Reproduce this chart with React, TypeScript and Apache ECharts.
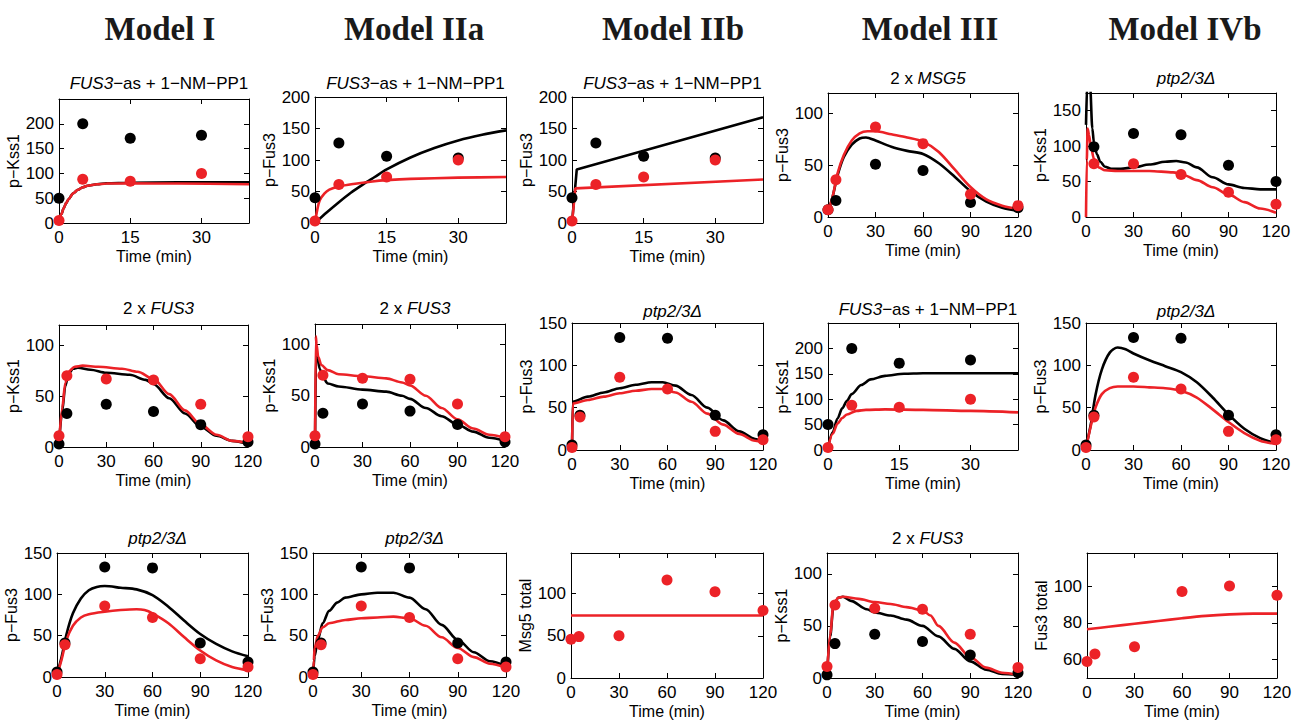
import React, { useEffect, useRef } from 'react';
import * as echarts from 'echarts';

type Pair = [number, number];

// ---------- tick labels / axes ----------
const xTicksShort = [0, 15, 30];
const xTicksLong = [0, 30, 60, 90, 120];
const yTicks200 = [0, 50, 100, 150, 200];
const yTicks150 = [0, 50, 100, 150];
const yTicks100 = [0, 50, 100];
const yTicksFus3Total = [60, 80, 100];

// ---------- experimental time points ----------
const tInhib = [0, 5, 15, 30];
const tCourse = [0, 5, 30, 60, 90, 120];
const tPtpKss1 = [5, 30, 60, 90, 120];

// ---------- experimental data (black = wild type, red = perturbation) ----------
const asKss1Black = [50, 200, 171, 177];
const asKss1Red = [5, 88, 84, 100];
const asFus3Black = [40, 127, 106, 103];
const asFus3Red = [3, 61, 73, 100];
const msg5Fus3Black = [7, 16, 51, 45, 14, 9];
const msg5Fus3Red = [7, 36, 87, 71, 22, 11];
const ptpKss1Black = [99, 118, 116, 73, 50];
const ptpKss1Red = [75, 75, 60, 35, 18];
const fus3x2Kss1Black = [3, 33, 42, 35, 22, 5];
const fus3x2Kss1Red = [11, 70, 67, 66, 42, 10];
const ptpFus3Black = [6, 41, 133, 132, 41, 18];
const ptpFus3Red = [3, 39, 86, 72, 22, 12];
const msg5TotalRed = [46, 49, 50, 116, 102, 80];
const fus3TotalRed = [59, 63, 67, 97, 100, 95];

// ---------- model simulations ----------
const m1AsKss1Black: Pair[] = [[0, 5], [0.5, 18], [1, 30], [1.5, 40], [2, 48], [3, 60], [4, 67], [5, 72], [6, 75], [8, 78], [10, 80], [15, 81], [25, 82], [40, 82]];
const m1AsKss1Red: Pair[] = [[0, 5], [0.5, 18], [1, 30], [1.5, 40], [2, 48], [3, 60], [4, 67], [5, 72], [6, 75], [8, 78], [10, 79.5], [15, 80], [25, 79.5], [40, 78]];
const m2aAsFus3Black: Pair[] = [[0, 0], [2.5, 17], [5, 33], [7.5, 48], [10, 61], [12.5, 73], [15, 85], [20, 104], [25, 119], [30, 131], [35, 140], [40, 147]];
const m2aAsFus3Red: Pair[] = [[0, 0], [0.5, 22], [1, 36], [2, 47], [3, 53], [5, 58], [8, 62], [12, 66], [15, 68], [20, 70], [30, 72], [40, 73]];
const m2bAsFus3Black: Pair[] = [[0, 0], [1, 85], [40, 168]];
const m2bAsFus3Red: Pair[] = [[0, 0], [0.7, 55], [40, 69]];
const m3Msg5Black: Pair[] = [[0, 5], [3, 20], [6, 40], [10, 58], [15, 70], [20, 76], [24, 77], [30, 74], [40, 68], [50, 64], [60, 61], [70, 52], [80, 39], [90, 25], [100, 15], [110, 9], [120, 6]];
const m3Msg5Red: Pair[] = [[0, 5], [3, 20], [6, 42], [10, 60], [15, 74], [20, 81], [25, 83], [30, 83], [40, 80], [50, 77], [60, 73], [70, 63], [80, 46], [90, 29], [100, 17], [110, 11], [120, 8]];
const m4bPtpKss1Black: Pair[] = [[0, 130], [1, 200], [2.5, 190], [4, 125], [5, 105], [7, 88], [9, 78], [12, 71], [16, 68], [22, 68], [30, 70], [40, 74], [50, 78], [57, 79], [63, 77], [70, 70], [80, 56], [90, 46], [100, 41], [110, 39], [120, 39]];
const m4bPtpKss1Red: Pair[] = [[0, 0], [0.5, 80], [1, 125], [2, 115], [3, 100], [5, 82], [8, 70], [12, 66], [20, 65], [40, 65], [55, 63], [62, 59], [70, 52], [80, 42], [90, 32], [100, 21], [110, 12], [120, 6]];
const m1Fus3x2Black: Pair[] = [[0, 3], [2, 35], [4, 60], [6, 72], [9, 77], [12, 78], [20, 76], [30, 73], [45, 71], [55, 66], [60, 62], [70, 48], [80, 33], [90, 20], [100, 11], [110, 6], [120, 3]];
const m1Fus3x2Red: Pair[] = [[0, 3], [2, 38], [4, 63], [6, 74], [10, 79], [15, 80], [25, 79], [40, 77], [50, 74], [60, 67], [70, 52], [80, 36], [90, 22], [100, 12], [110, 6], [120, 4]];
const m2aFus3x2Black: Pair[] = [[0, 0], [0.7, 95], [1.5, 88], [3, 76], [5, 68], [8, 62], [15, 59], [30, 56], [45, 54], [55, 50], [60, 47], [70, 38], [80, 30], [90, 22], [100, 15], [110, 9], [120, 6]];
const m2aFus3x2Red: Pair[] = [[0, 0], [0.5, 108], [1, 100], [2, 88], [4, 80], [8, 75], [15, 71], [30, 69], [45, 67], [55, 63], [60, 60], [70, 50], [80, 38], [90, 27], [100, 18], [110, 12], [120, 9]];
const m2bPtpFus3Black: Pair[] = [[0, 0], [0.5, 57], [10, 63], [20, 68], [30, 73], [40, 77], [50, 80], [57, 80], [65, 76], [75, 65], [85, 50], [95, 35], [105, 22], [115, 13], [120, 10]];
const m2bPtpFus3Red: Pair[] = [[0, 0], [0.5, 55], [10, 59], [20, 63], [30, 67], [40, 70], [50, 72], [57, 72], [65, 68], [75, 57], [85, 43], [95, 30], [105, 19], [115, 11], [120, 9]];
const m3AsKss1Black: Pair[] = [[0, 5], [1, 35], [2, 62], [3, 82], [4, 97], [5, 110], [7, 128], [9, 139], [12, 146], [16, 150], [20, 151], [40, 151]];
const m3AsKss1Red: Pair[] = [[0, 5], [1, 32], [2, 52], [3, 63], [4, 70], [6, 77], [8, 79], [12, 80], [20, 79], [30, 77], [40, 74]];
const m4bPtpFus3Black: Pair[] = [[0, 3], [3, 30], [6, 65], [10, 95], [15, 115], [20, 121], [25, 119], [30, 114], [40, 106], [50, 99], [60, 92], [70, 80], [80, 62], [90, 42], [100, 25], [110, 14], [120, 8]];
const m4bPtpFus3Red: Pair[] = [[0, 2], [3, 28], [6, 50], [10, 66], [15, 73], [20, 75], [30, 75], [40, 74], [50, 73], [60, 70], [70, 62], [80, 48], [90, 33], [100, 20], [110, 11], [120, 7]];
const m1PtpFus3Black: Pair[] = [[0, 3], [3, 25], [6, 52], [10, 77], [15, 95], [20, 105], [25, 109], [30, 110], [40, 108], [50, 106], [60, 99], [70, 85], [80, 68], [90, 52], [100, 40], [110, 31], [120, 25]];
const m1PtpFus3Red: Pair[] = [[0, 2], [3, 22], [6, 45], [10, 62], [15, 72], [20, 76], [30, 79], [40, 81], [50, 82], [55, 81], [60, 77], [70, 65], [80, 48], [90, 32], [100, 20], [110, 12], [120, 8]];
const m2aPtpFus3Black: Pair[] = [[0, 0], [1, 25], [3, 45], [6, 65], [10, 80], [15, 90], [20, 96], [30, 100], [40, 102], [50, 102], [60, 96], [70, 82], [80, 63], [90, 45], [100, 30], [110, 19], [120, 13]];
const m2aPtpFus3Red: Pair[] = [[0, 0], [0.5, 20], [1, 35], [3, 50], [6, 60], [10, 65], [20, 69], [30, 71], [40, 72], [50, 73], [60, 71], [70, 62], [80, 48], [90, 35], [100, 24], [110, 16], [120, 11]];
const m2bMsg5TotalRed: Pair[] = [[0, 74], [120, 74]];
const m3Fus3x2Black: Pair[] = [[0, 3], [2, 40], [4, 68], [7, 77], [10, 78], [15, 74], [25, 66], [30, 63], [40, 60], [50, 56], [60, 50], [70, 40], [80, 28], [90, 16], [100, 8], [110, 4], [120, 3]];
const m3Fus3x2Red: Pair[] = [[0, 3], [2, 42], [4, 70], [7, 77], [10, 78], [20, 76], [30, 73], [40, 71], [50, 68], [60, 65], [65, 60], [70, 50], [80, 34], [90, 20], [100, 10], [110, 5], [120, 3]];
const m4bFus3TotalRed: Pair[] = [[0, 76.5], [15, 78], [30, 79.5], [45, 81], [60, 82.5], [75, 83.8], [90, 84.6], [105, 85], [120, 85]];

// ---------- text ----------
const modelNames = ['Model I', 'Model IIa', 'Model IIb', 'Model III', 'Model IVb'];
const tAs = '{i|FUS3}{n|−as + 1−NM−PP1}';
const t2Msg5 = '{n|2 x }{i|MSG5}';
const tPtp = '{i|ptp2/3Δ}';
const t2Fus3 = '{n|2 x }{i|FUS3}';

const zip = (t: number[], v: number[]): Pair[] => t.map((x, i) => [x, v[i]]);

interface Panel {
  box: [number, number, number, number];
  title?: string;
  titleY: number;
  xMax: number; xTicks: number[];
  yMin: number; yMax: number; yTicks: number[];
  yName: string;
  blackLine?: Pair[]; redLine?: Pair[];
  blackDots?: Pair[]; redDots?: Pair[];
  smooth?: boolean;
  mono?: boolean;
}

const panels: Panel[] = [
  { box: [59, 99, 190, 124], title: tAs, titleY: 80, xMax: 40, xTicks: xTicksShort, yMin: 0, yMax: 250, yTicks: yTicks200, yName: 'p−Kss1',
    blackLine: m1AsKss1Black, redLine: m1AsKss1Red, blackDots: zip(tInhib, asKss1Black), redDots: zip(tInhib, asKss1Red), mono: true },
  { box: [315, 97, 191, 126], title: tAs, titleY: 80, xMax: 40, xTicks: xTicksShort, yMin: 0, yMax: 200, yTicks: yTicks200, yName: 'p−Fus3',
    blackLine: m2aAsFus3Black, redLine: m2aAsFus3Red, blackDots: zip(tInhib, asFus3Black), redDots: zip(tInhib, asFus3Red) },
  { box: [572, 97, 191, 126], title: tAs, titleY: 80, xMax: 40, xTicks: xTicksShort, yMin: 0, yMax: 200, yTicks: yTicks200, yName: 'p−Fus3',
    blackLine: m2bAsFus3Black, redLine: m2bAsFus3Red, blackDots: zip(tInhib, asFus3Black), redDots: zip(tInhib, asFus3Red), smooth: false },
  { box: [828, 93, 190, 124], title: t2Msg5, titleY: 75, xMax: 120, xTicks: xTicksLong, yMin: 0, yMax: 120, yTicks: yTicks100, yName: 'p−Fus3',
    blackLine: m3Msg5Black, redLine: m3Msg5Red, blackDots: zip(tCourse, msg5Fus3Black), redDots: zip(tCourse, msg5Fus3Red) },
  { box: [1086, 93, 190, 124], title: tPtp, titleY: 75, xMax: 120, xTicks: xTicksLong, yMin: 0, yMax: 175, yTicks: yTicks150, yName: 'p−Kss1',
    blackLine: m4bPtpKss1Black, redLine: m4bPtpKss1Red, blackDots: zip(tPtpKss1, ptpKss1Black), redDots: zip(tPtpKss1, ptpKss1Red), mono: true },

  { box: [59, 325, 189, 122], title: t2Fus3, titleY: 305, xMax: 120, xTicks: xTicksLong, yMin: 0, yMax: 120, yTicks: yTicks100, yName: 'p−Kss1',
    blackLine: m1Fus3x2Black, redLine: m1Fus3x2Red, blackDots: zip(tCourse, fus3x2Kss1Black), redDots: zip(tCourse, fus3x2Kss1Red), mono: true },
  { box: [315, 324, 190, 123], title: t2Fus3, titleY: 305, xMax: 120, xTicks: xTicksLong, yMin: 0, yMax: 120, yTicks: yTicks100, yName: 'p−Kss1',
    blackLine: m2aFus3x2Black, redLine: m2aFus3x2Red, blackDots: zip(tCourse, fus3x2Kss1Black), redDots: zip(tCourse, fus3x2Kss1Red), mono: true },
  { box: [572, 323, 191, 127], title: tPtp, titleY: 308, xMax: 120, xTicks: xTicksLong, yMin: 0, yMax: 150, yTicks: yTicks150, yName: 'p−Fus3',
    blackLine: m2bPtpFus3Black, redLine: m2bPtpFus3Red, blackDots: zip(tCourse, ptpFus3Black), redDots: zip(tCourse, ptpFus3Red), mono: true },
  { box: [828, 323, 190, 127], title: tAs, titleY: 306, xMax: 40, xTicks: xTicksShort, yMin: 0, yMax: 250, yTicks: yTicks200, yName: 'p−Kss1',
    blackLine: m3AsKss1Black, redLine: m3AsKss1Red, blackDots: zip(tInhib, asKss1Black), redDots: zip(tInhib, asKss1Red), mono: true },
  { box: [1086, 323, 190, 127], title: tPtp, titleY: 308, xMax: 120, xTicks: xTicksLong, yMin: 0, yMax: 150, yTicks: yTicks150, yName: 'p−Fus3',
    blackLine: m4bPtpFus3Black, redLine: m4bPtpFus3Red, blackDots: zip(tCourse, ptpFus3Black), redDots: zip(tCourse, ptpFus3Red) },

  { box: [57, 553, 191, 124], title: tPtp, titleY: 535, xMax: 120, xTicks: xTicksLong, yMin: 0, yMax: 150, yTicks: yTicks150, yName: 'p−Fus3',
    blackLine: m1PtpFus3Black, redLine: m1PtpFus3Red, blackDots: zip(tCourse, ptpFus3Black), redDots: zip(tCourse, ptpFus3Red) },
  { box: [313, 553, 193, 124], title: tPtp, titleY: 535, xMax: 120, xTicks: xTicksLong, yMin: 0, yMax: 150, yTicks: yTicks150, yName: 'p−Fus3',
    blackLine: m2aPtpFus3Black, redLine: m2aPtpFus3Red, blackDots: zip(tCourse, ptpFus3Black), redDots: zip(tCourse, ptpFus3Red), mono: true },
  { box: [571, 553, 192, 125], titleY: 535, xMax: 120, xTicks: xTicksLong, yMin: 0, yMax: 148, yTicks: yTicks100, yName: 'Msg5 total',
    redLine: m2bMsg5TotalRed, redDots: zip(tCourse, msg5TotalRed) },
  { box: [827, 553, 191, 125], title: t2Fus3, titleY: 535, xMax: 120, xTicks: xTicksLong, yMin: 0, yMax: 120, yTicks: yTicks100, yName: 'p−Kss1',
    blackLine: m3Fus3x2Black, redLine: m3Fus3x2Red, blackDots: zip(tCourse, fus3x2Kss1Black), redDots: zip(tCourse, fus3x2Kss1Red), mono: true },
  { box: [1087, 553, 190, 125], titleY: 535, xMax: 120, xTicks: xTicksLong, yMin: 50, yMax: 118, yTicks: yTicksFus3Total, yName: 'Fus3 total',
    redLine: m4bFus3TotalRed, redDots: zip(tCourse, fus3TotalRed) },
];

const headerX = [155, 409, 668, 925, 1180];

const SANS = "'Liberation Sans', Arial, Helvetica, sans-serif";
const SERIF = "'Liberation Serif', 'Times New Roman', serif";
const BLACK = '#000000';
const RED = '#ec2227';

function buildOption() {
  const grid: any[] = [];
  const xAxis: any[] = [];
  const yAxis: any[] = [];
  const series: any[] = [];
  const title: any[] = [];

  modelNames.forEach((m, i) => {
    title.push({
      text: m, left: headerX[i], top: 7, textAlign: 'center',
      textStyle: { fontFamily: SERIF, fontWeight: 'bold', fontSize: 33, color: '#1a1a1a' },
    });
  });

  panels.forEach((p, i) => {
    const [l, t, w, h] = p.box;
    grid.push({ left: l, top: t, width: w, height: h, containLabel: false });
    const lineCommon = { show: true, onZero: false, lineStyle: { color: BLACK, width: 1 } };
    const tickCommon = { inside: true, length: 5, lineStyle: { color: BLACK, width: 1 } };
    xAxis.push({
      type: 'value', gridIndex: i, min: 0, max: p.xMax, position: 'bottom',
      axisLine: lineCommon, axisTick: { ...tickCommon, customValues: p.xTicks },
      axisLabel: { customValues: p.xTicks, color: BLACK, fontSize: 17, fontFamily: SANS, margin: 6 },
      splitLine: { show: false },
      name: 'Time (min)', nameLocation: 'middle', nameGap: 25,
      nameTextStyle: { color: BLACK, fontSize: 16, fontFamily: SANS },
    });
    xAxis.push({
      type: 'value', gridIndex: i, min: 0, max: p.xMax, position: 'top',
      axisLine: lineCommon, axisTick: { ...tickCommon, customValues: p.xTicks },
      axisLabel: { show: false, customValues: p.xTicks }, splitLine: { show: false },
    });
    yAxis.push({
      type: 'value', gridIndex: i, min: p.yMin, max: p.yMax, position: 'left',
      axisLine: lineCommon, axisTick: { ...tickCommon, customValues: p.yTicks },
      axisLabel: { customValues: p.yTicks, color: BLACK, fontSize: 17, fontFamily: SANS, margin: 5 },
      splitLine: { show: false },
      name: p.yName, nameLocation: 'middle', nameGap: 35,
      nameTextStyle: { color: BLACK, fontSize: 16, fontFamily: SANS },
    });
    yAxis.push({
      type: 'value', gridIndex: i, min: p.yMin, max: p.yMax, position: 'right',
      axisLine: lineCommon, axisTick: { ...tickCommon, customValues: p.yTicks },
      axisLabel: { show: false, customValues: p.yTicks }, splitLine: { show: false },
    });
    const xi = i * 2;
    const yi = i * 2;
    const sm = p.smooth === false ? false : 0.3;
    const mono = p.mono ? 'x' : undefined;
    if (p.blackLine) {
      series.push({ type: 'line', xAxisIndex: xi, yAxisIndex: yi, data: p.blackLine, showSymbol: false, symbol: 'none',
        smooth: sm, smoothMonotone: mono, clip: true, lineStyle: { color: BLACK, width: 2.6 }, z: 2 });
    }
    if (p.redLine) {
      series.push({ type: 'line', xAxisIndex: xi, yAxisIndex: yi, data: p.redLine, showSymbol: false, symbol: 'none',
        smooth: sm, smoothMonotone: mono, clip: true, lineStyle: { color: RED, width: 2.6 }, z: 3 });
    }
    if (p.blackDots) {
      series.push({ type: 'scatter', xAxisIndex: xi, yAxisIndex: yi, data: p.blackDots, symbol: 'circle', symbolSize: 11,
        itemStyle: { color: BLACK, opacity: 1 }, z: 4 });
    }
    if (p.redDots) {
      series.push({ type: 'scatter', xAxisIndex: xi, yAxisIndex: yi, data: p.redDots, symbol: 'circle', symbolSize: 11,
        itemStyle: { color: RED, opacity: 1 }, z: 5 });
    }
    if (p.title) {
      title.push({
        text: p.title, left: l + w / 2, top: p.titleY - 10, textAlign: 'center',
        textStyle: {
          fontFamily: SANS, fontSize: 17, fontWeight: 'normal', color: BLACK,
          rich: {
            i: { fontFamily: SANS, fontSize: 17, fontStyle: 'italic', fontWeight: 'normal', color: BLACK },
            n: { fontFamily: SANS, fontSize: 17, fontStyle: 'normal', fontWeight: 'normal', color: BLACK },
          },
        },
      });
    }
  });

  return { animation: false, backgroundColor: '#ffffff', title, grid, xAxis, yAxis, series };
}

export default function App() {
  const ref = useRef<HTMLDivElement>(null);
  useEffect(() => {
    if (!ref.current) return;
    const chart = echarts.init(ref.current, undefined, { renderer: 'svg' });
    chart.setOption(buildOption() as any);
    return () => chart.dispose();
  }, []);
  return <div ref={ref} style={{ position: 'absolute', left: 0, top: 0, width: 1300, height: 722, background: '#fff' }} />;
}
